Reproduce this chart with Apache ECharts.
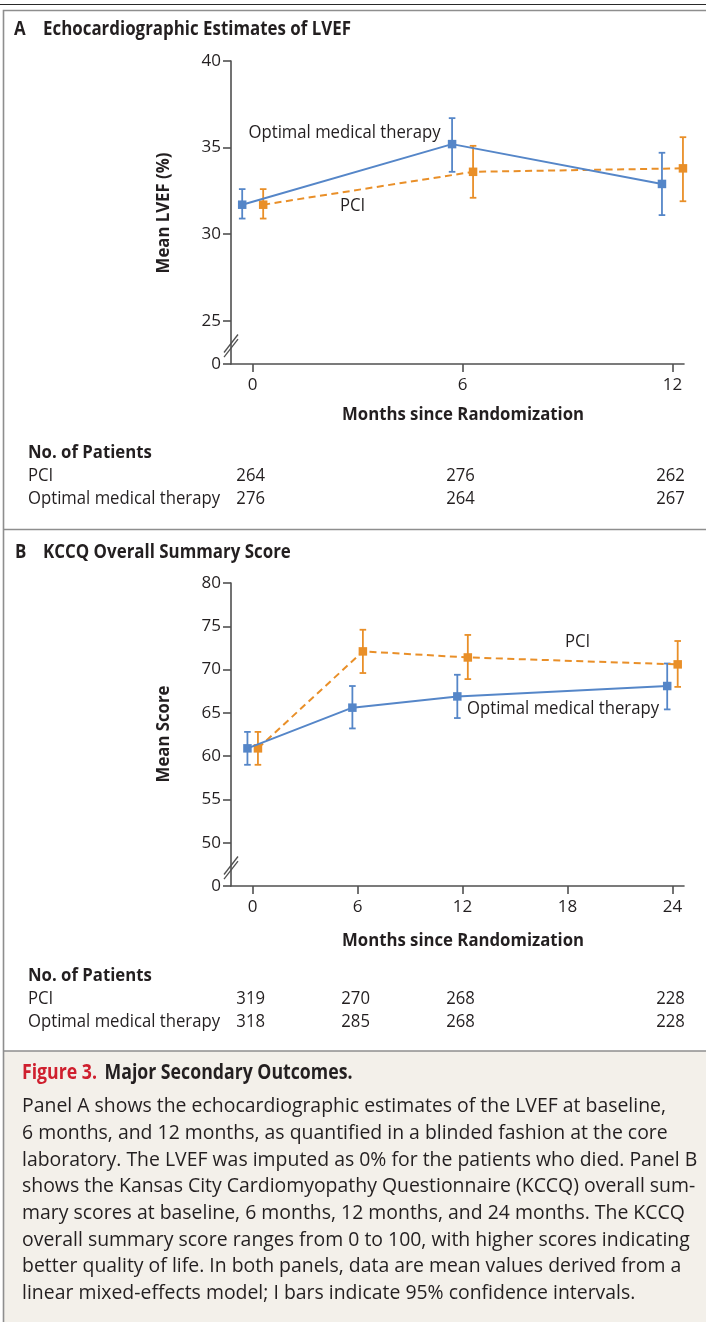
<!DOCTYPE html>
<html><head><meta charset="utf-8">
<script src="https://cdn.jsdelivr.net/npm/echarts@6/dist/echarts.min.js"></script>
<style>html,body{margin:0;padding:0;background:#fff}#c{width:706px;height:1322px}</style>
</head><body><div id="c"></div>
<script>
// ---------- Panel A: LVEF ----------
const monthsA = [0, 6, 12];
const lvefOMT = [31.7, 35.2, 32.9];
const lvefOMTLow = [30.9, 33.6, 31.1];
const lvefOMTHigh = [32.6, 36.7, 34.7];
const lvefPCI = [31.7, 33.6, 33.8];
const lvefPCILow = [30.9, 32.1, 31.9];
const lvefPCIHigh = [32.6, 35.1, 35.6];
const yTicksA = [0, 25, 30, 35, 40];
const xTicksA = [0, 6, 12];
const nPCI_A = [264, 276, 262];
const nOMT_A = [276, 264, 267];

// ---------- Panel B: KCCQ ----------
const monthsB = [0, 6, 12, 24];
const kccqOMT = [60.9, 65.6, 66.9, 68.1];
const kccqOMTLow = [59.0, 63.2, 64.4, 65.4];
const kccqOMTHigh = [62.8, 68.1, 69.4, 70.7];
const kccqPCI = [60.9, 72.1, 71.4, 70.6];
const kccqPCILow = [59.0, 69.6, 68.9, 68.0];
const kccqPCIHigh = [62.8, 74.6, 74.0, 73.3];
const yTicksB = [0, 50, 55, 60, 65, 70, 75, 80];
const xTicksB = [0, 6, 12, 18, 24];
const nPCI_B = [319, 270, 268, 228];
const nOMT_B = [318, 285, 268, 228];

const captionLines = [
  'Panel A shows the echocardiographic estimates of the LVEF at baseline,',
  '6 months, and 12 months, as quantified in a blinded fashion at the core',
  'laboratory. The LVEF was imputed as 0% for the patients who died. Panel B',
  'shows the Kansas City Cardiomyopathy Questionnaire (KCCQ) overall sum-',
  'mary scores at baseline, 6 months, 12 months, and 24 months. The KCCQ',
  'overall summary score ranges from 0 to 100, with higher scores indicating',
  'better quality of life. In both panels, data are mean values derived from a',
  'linear mixed-effects model; I bars indicate 95% confidence intervals.'
];

// ---------- style / layout ----------
const FONT = '"Open Sans", "Noto Sans", sans-serif';
const BLUE = '#5586c8', ORANGE = '#e98f28', INK = '#231f20', AXIS = '#505050', FRAME = '#8e8e8e';
const GL = 231, GW = 453, GH = 303, TOP_A = 61, TOP_B = 583;
const XR_A = [-0.62, 12.33], XR_B = [-1.24, 24.66];
const BRK_A = 22.5, BRK_B = 45;  // axis value drawn as "0" below the break
const OFF = 0.3;                  // horizontal dodge (months) of the two groups

const chart = echarts.init(document.getElementById('c'), null, {renderer: 'canvas'});

function xAxis(gi, range, ticks) {
  return {type: 'value', gridIndex: gi, min: range[0], max: range[1],
    axisLine: {show: true, onZero: false, lineStyle: {color: AXIS, width: 1.6}},
    axisTick: {show: true, length: 8, customValues: ticks, lineStyle: {color: AXIS, width: 1.6}},
    axisLabel: {customValues: ticks, margin: 13, color: INK, fontSize: 17, fontFamily: FONT},
    splitLine: {show: false}};
}
function yAxis(gi, ticks, brk) {
  const vals = ticks.map(t => t === 0 ? brk : t);
  return {type: 'value', gridIndex: gi, min: brk, max: ticks[ticks.length - 1],
    axisLine: {show: true, onZero: false, lineStyle: {color: AXIS, width: 1.6}},
    axisTick: {show: true, length: 8, customValues: vals, lineStyle: {color: AXIS, width: 1.6}},
    axisLabel: {customValues: vals, margin: 10, color: INK, fontSize: 17, fontFamily: FONT,
      formatter: v => Math.abs(v - brk) < 1e-9 ? '0' : String(v)},
    splitLine: {show: false}};
}
function lineSeries(gi, months, vals, off, color, dashed, z) {
  return {type: 'line', xAxisIndex: gi, yAxisIndex: gi, z: z, silent: true,
    data: months.map((m, i) => [m + off, vals[i]]),
    symbol: 'rect', symbolSize: 8.5, showSymbol: true,
    itemStyle: {color: color},
    lineStyle: {color: color, width: 2, type: dashed ? [7, 4.5] : 'solid'}};
}
function errSeries(gi, months, lo, hi, off, color, z) {
  return {type: 'custom', xAxisIndex: gi, yAxisIndex: gi, z: z, silent: true, clip: false,
    data: months.map((m, i) => [m + off, lo[i], hi[i]]),
    encode: {x: 0, y: [1, 2]},
    renderItem: function (params, api) {
      const x = api.value(0);
      const pL = api.coord([x, api.value(1)]), pH = api.coord([x, api.value(2)]);
      const w = 3.3, st = {stroke: color, lineWidth: 1.8};
      return {type: 'group', children: [
        {type: 'line', shape: {x1: pL[0], y1: pL[1], x2: pH[0], y2: pH[1]}, style: st},
        {type: 'line', shape: {x1: pL[0] - w, y1: pL[1], x2: pL[0] + w, y2: pL[1]}, style: st},
        {type: 'line', shape: {x1: pH[0] - w, y1: pH[1], x2: pH[0] + w, y2: pH[1]}, style: st}
      ]};
    }};
}

chart.setOption({
  animation: false,
  backgroundColor: '#ffffff',
  grid: [
    {left: GL, top: TOP_A, width: GW, height: GH, outerBoundsMode: 'none', containLabel: false},
    {left: GL, top: TOP_B, width: GW, height: GH, outerBoundsMode: 'none', containLabel: false}
  ],
  xAxis: [xAxis(0, XR_A, xTicksA), xAxis(1, XR_B, xTicksB)],
  yAxis: [yAxis(0, yTicksA, BRK_A), yAxis(1, yTicksB, BRK_B)],
  series: [
    errSeries(0, monthsA, lvefPCILow, lvefPCIHigh, OFF, ORANGE, 2),
    errSeries(0, monthsA, lvefOMTLow, lvefOMTHigh, -OFF, BLUE, 2),
    lineSeries(0, monthsA, lvefPCI, OFF, ORANGE, true, 3),
    lineSeries(0, monthsA, lvefOMT, -OFF, BLUE, false, 4),
    errSeries(1, monthsB, kccqPCILow, kccqPCIHigh, OFF, ORANGE, 2),
    errSeries(1, monthsB, kccqOMTLow, kccqOMTHigh, -OFF, BLUE, 2),
    lineSeries(1, monthsB, kccqPCI, OFF, ORANGE, true, 3),
    lineSeries(1, monthsB, kccqOMT, -OFF, BLUE, false, 4)
  ]
});

// ---------- text & decorations ----------
const ctx = document.createElement('canvas').getContext('2d');
function measure(text, size, bold) {
  ctx.font = (bold ? 'bold ' : '') + size + 'px ' + FONT;
  return ctx.measureText(text).width;
}
function T(text, x, y, o) {
  o = o || {};
  const size = o.size || 18, bold = !!o.bold;
  let sx = o.sx || 1;
  if (o.w) sx = o.w / measure(text, size, bold);
  return {type: 'text', x: x, y: y, rotation: o.rot || 0, scaleX: sx, silent: true, z: 10,
    style: {text: text, fontSize: size, fontFamily: FONT, fontWeight: bold ? 'bold' : 'normal',
      fill: o.color || INK, align: o.align || 'left', verticalAlign: 'middle'}};
}
function L(x1, y1, x2, y2, color, lw) {
  return {type: 'line', silent: true, z: 5, shape: {x1: x1, y1: y1, x2: x2, y2: y2},
    style: {stroke: color, lineWidth: lw}};
}

const SX = 192 / measure('Optimal medical therapy', 18, false);
const SXC = 644 / measure(captionLines[0], 20, false);
const g = [];

// frames and caption background
g.push({type: 'rect', silent: true, z: 0, shape: {x: 4, y: 1051, width: 702, height: 271}, style: {fill: '#f3f0ea'}});
g.push(L(0, 4.5, 706, 4.5, '#2a2a2a', 1.2));
g.push({type: 'polyline', silent: true, z: 5, shape: {points: [[706, 10.5], [3.5, 10.5], [3.5, 1322]]},
  style: {stroke: FRAME, lineWidth: 1.6, fill: null}});
g.push(L(3.5, 529.5, 706, 529.5, FRAME, 1.6));
g.push(L(3.5, 1051, 706, 1051, FRAME, 1.6));

// panel titles
const SXT = 308 / measure('Echocardiographic Estimates of LVEF', 20, true);
g.push(T('A', 14, 29.5, {size: 20, bold: true, sx: SXT}));
g.push(T('Echocardiographic Estimates of LVEF', 43, 29.5, {size: 20, bold: true, sx: SXT}));
g.push(T('B', 15, 552.5, {size: 20, bold: true, sx: SXT}));
g.push(T('KCCQ Overall Summary Score', 43, 552.5, {size: 20, bold: true, sx: SXT}));

// axis titles
g.push(T('Months since Randomization', 463, 415, {size: 18, bold: true, w: 242, align: 'center'}));
g.push(T('Months since Randomization', 463, 941, {size: 18, bold: true, w: 242, align: 'center'}));
const SXY = 242 / measure('Months since Randomization', 18, true);
g.push(T('Mean LVEF (%)', 164, 213, {size: 18, bold: true, sx: SXY, align: 'center', rot: Math.PI / 2}));
g.push(T('Mean Score', 164, 734, {size: 18, bold: true, sx: SXY, align: 'center', rot: Math.PI / 2}));

// series labels
g.push(T('Optimal medical therapy', 248.5, 133, {sx: SX}));
g.push(T('PCI', 340, 206, {sx: SX}));
g.push(T('PCI', 565, 641.5, {sx: SX}));
g.push(T('Optimal medical therapy', 467, 709, {sx: SX}));

// axis breaks
function breakMarks(gi, brk, firstTick) {
  const p = chart.convertToPixel({gridIndex: gi}, [0, brk + 0.42 * (firstTick - brk)]);
  const cy = p[1], x = GL;
  [-2.3, 2.3].forEach(o => g.push(L(x - 7, cy + 9 + o, x + 7, cy - 9 + o, AXIS, 1.3)));
}
breakMarks(0, BRK_A, yTicksA[1]);
breakMarks(1, BRK_B, yTicksB[1]);

// numbers at risk
function riskTable(gi, months, nP, nO, yHead) {
  g.push(T('No. of Patients', 28, yHead, {bold: true, sx: SXY}));
  g.push(T('PCI', 28, yHead + 23, {sx: SX}));
  g.push(T('Optimal medical therapy', 28, yHead + 45.5, {sx: SX}));
  months.forEach((m, i) => {
    const px = chart.convertToPixel({gridIndex: gi}, [m, 0])[0] - 2;
    g.push(T(String(nP[i]), px, yHead + 23, {sx: SX, align: 'center'}));
    g.push(T(String(nO[i]), px, yHead + 45.5, {sx: SX, align: 'center'}));
  });
}
riskTable(0, monthsA, nPCI_A, nOMT_A, 453);
riskTable(1, monthsB, nPCI_B, nOMT_B, 976);

// caption
const SXH = 75 / measure('Figure 3.', 20.5, true);
g.push(T('Figure 3.', 22, 1073, {size: 20.5, bold: true, sx: SXH, color: '#cf1f2e'}));
g.push(T('Major Secondary Outcomes.', 104.5, 1073, {size: 20.5, bold: true, sx: SXH, color: INK}));
captionLines.forEach((s, i) => g.push(T(s, 22, 1106.7 + i * 26.67, {size: 20, sx: SXC})));

chart.setOption({graphic: {elements: g}});
</script>
</body></html>
